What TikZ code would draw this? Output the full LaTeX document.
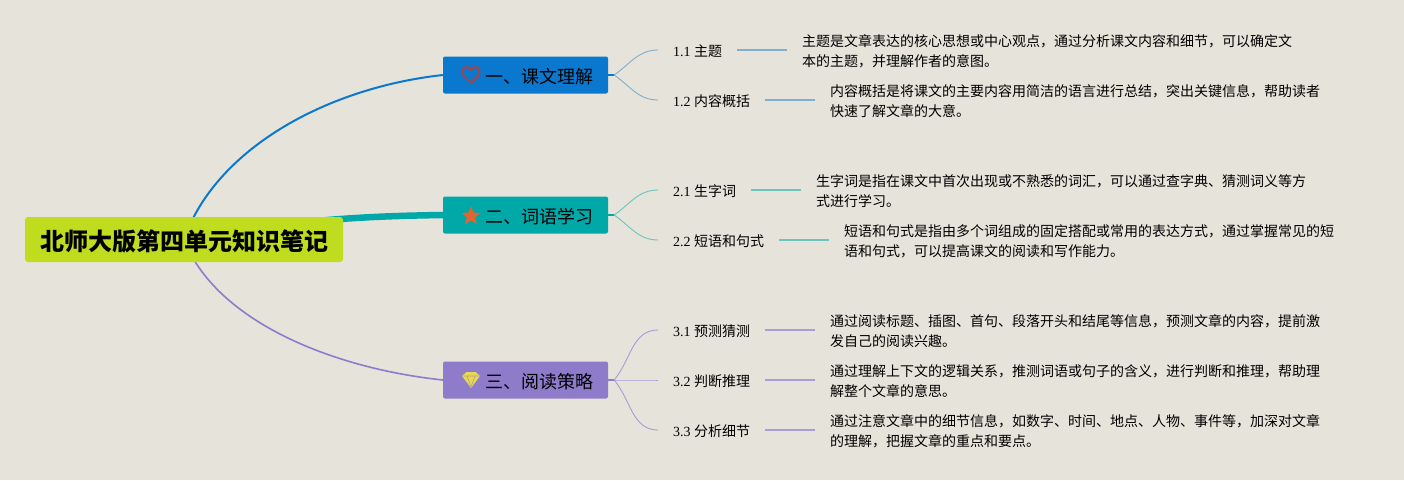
\documentclass[tikz,border=0pt]{standalone}
\usepackage{fontspec}
\setmainfont{Liberation Serif}
\newfontfamily\cjk{Noto Sans CJK SC}
\usetikzlibrary{calc,shapes.geometric,positioning,backgrounds}
\definecolor{paper}{HTML}{E6E3DA}
\definecolor{rootc}{HTML}{BFDD1E}
\definecolor{bluec}{HTML}{0B78D0}
\definecolor{tealc}{HTML}{00A8A8}
\definecolor{purplec}{HTML}{8E7CCB}
\definecolor{bluel}{HTML}{7FAFD0}
\definecolor{teall}{HTML}{6CC4BE}
\definecolor{purplel}{HTML}{A99CD8}
\definecolor{heartc}{HTML}{A0444C}
\definecolor{starc}{HTML}{E0662F}
\definecolor{gemc}{HTML}{E6D850}
\tikzset{
    rootnode/.style={
    rectangle,rounded corners=3pt,fill=rootc,minimum width=318pt,minimum height=45pt,
    inner sep=0pt,text height=21.6pt,text depth=0pt,font=\cjk\bfseries\fontsize{24}{28}\selectfont
    },
    branch/.style={
    rectangle,rounded corners=2pt,minimum width=165pt,minimum height=37pt,
    inner xsep=15pt,inner ysep=0pt,text width=135pt,align=right,text height=16pt,text depth=0pt,
    font=\cjk\fontsize{18}{22}\selectfont
    },
    leaflabel/.style={
    anchor=west,inner xsep=15pt,inner ysep=0pt,font=\fontsize{14}{20}\selectfont
    },
    detail/.style={
    anchor=west,inner xsep=15pt,inner ysep=0pt,align=left,font=\cjk\fontsize{14}{20}\selectfont
    },
    stub/.style={line width=2.5pt},
    twig/.style={line width=0.9pt,in=180},
    bar/.style={line width=1.6pt},
}
\begin{document}
\begin{tikzpicture}[x=1pt,y=-1pt]
   \useasboundingbox (0,0) rectangle (1404,480);
   \node[rootnode] (root) at (184,239.5) {北师大版第四单元知识笔记};

   \node[branch,fill=bluec] (b1) at (525.5,75) {一、课文理解};
   \node[branch,fill=tealc] (b2) at (525.5,215) {二、词语学习};
   \node[branch,fill=purplec] (b3) at (525.5,380) {三、阅读策略};

   \coordinate[right=6pt of b1.east] (s1);
   \coordinate[right=6pt of b2.east] (s2);
   \coordinate[right=6pt of b3.east] (s3);

   % icons
   \draw[heartc,line width=2pt,line join=round] (471,83)
     .. controls (466,78) and (462.5,76) .. (462.5,71.5)
     .. controls (462.5,66) and (469,65.5) .. (471,70)
     .. controls (473,65.5) and (479.5,66) .. (479.5,71.5)
     .. controls (479.5,76) and (476,78) .. (471,83) -- cycle;
   \node[star,star points=5,star point ratio=2.3,fill=starc,inner sep=0pt,minimum size=20pt] (i2) at (471,216) {};
   \fill[gemc] (462,376) -- (466.5,372) -- (475.5,372) -- (480,376) -- (471,388) -- cycle;
   \draw[purplec!60!gemc,line width=0.6pt] (462,376) -- (480,376) (467,376) -- (471,387) -- (475,376);

   \node[leaflabel] (l11) at (658,51.5) {1.1 {\cjk 主题}};
   \node[leaflabel] (l12) at (658,101.5) {1.2 {\cjk 内容概括}};
   \node[leaflabel] (l21) at (658,191.5) {2.1 {\cjk 生字词}};
   \node[leaflabel] (l22) at (658,241.5) {2.2 {\cjk 短语和句式}};
   \node[leaflabel] (l31) at (658,331.5) {3.1 {\cjk 预测猜测}};
   \node[leaflabel] (l32) at (658,381.5) {3.2 {\cjk 判断推理}};
   \node[leaflabel] (l33) at (658,431.5) {3.3 {\cjk 分析细节}};

   \node[detail] (t11) at (787,51.5) {主题是文章表达的核心思想或中心观点，通过分析课文内容和细节，可以确定文\\本的主题，并理解作者的意图。};
   \node[detail] (t12) at (815,101.5) {内容概括是将课文的主要内容用简洁的语言进行总结，突出关键信息，帮助读者\\快速了解文章的大意。};
   \node[detail] (t21) at (801,191.5) {生字词是指在课文中首次出现或不熟悉的词汇，可以通过查字典、猜测词义等方\\式进行学习。};
   \node[detail] (t22) at (829,241.5) {短语和句式是指由多个词组成的固定搭配或常用的表达方式，通过掌握常见的短\\语和句式，可以提高课文的阅读和写作能力。};
   \node[detail] (t31) at (815,331.5) {通过阅读标题、插图、首句、段落开头和结尾等信息，预测文章的内容，提前激\\发自己的阅读兴趣。};
   \node[detail] (t32) at (815,381.5) {通过理解上下文的逻辑关系，推测词语或句子的含义，进行判断和推理，帮助理\\解整个文章的意思。};
   \node[detail] (t33) at (815,431.5) {通过注意文章中的细节信息，如数字、时间、地点、人物、事件等，加深对文章\\的理解，把握文章的重点和要点。};

   \begin{scope}[on background layer]
   \fill[paper] (0,0) rectangle (1404,480);
   \draw[bluec,line width=2pt] (root.center) .. controls (215,150) and (325,88) .. (b1.west);
   \draw[tealc,line width=6.5pt] (root.center) .. controls (300,218) and (380,216) .. (b2.west);
   \draw[purplec,line width=1.6pt] (root.center) .. controls (215,320) and (330,368) .. (b3.west);
   \end{scope}

  \path[bluec]
    (b1.east) edge [stub] (s1)
    (s1) edge [twig,bluel,out=35] ([yshift=1.5pt]l11.west)
         edge [twig,bluel,out=-35] ([yshift=1.5pt]l12.west);
  \path[tealc]
    (b2.east) edge [stub] (s2)
    (s2) edge [twig,teall,out=35] ([yshift=1.5pt]l21.west)
         edge [twig,teall,out=-35] ([yshift=1.5pt]l22.west);
  \path[purplec]
    (b3.east) edge [stub] (s3)
    (s3) edge [twig,purplel,out=50] ([yshift=1.5pt]l31.west)
         edge [twig,purplel,out=0] ([yshift=1.5pt]l32.west)
         edge [twig,purplel,out=-50] ([yshift=1.5pt]l33.west);
  \path[bar]
    ([yshift=1.5pt]l11.east) edge [bluel] ([yshift=1.5pt]t11.west)
    ([yshift=1.5pt]l12.east) edge [bluel] ([yshift=1.5pt]t12.west)
    ([yshift=1.5pt]l21.east) edge [teall] ([yshift=1.5pt]t21.west)
    ([yshift=1.5pt]l22.east) edge [teall] ([yshift=1.5pt]t22.west)
    ([yshift=1.5pt]l31.east) edge [purplel] ([yshift=1.5pt]t31.west)
    ([yshift=1.5pt]l32.east) edge [purplel] ([yshift=1.5pt]t32.west)
    ([yshift=1.5pt]l33.east) edge [purplel] ([yshift=1.5pt]t33.west);
  \end{tikzpicture}
\end{document}
